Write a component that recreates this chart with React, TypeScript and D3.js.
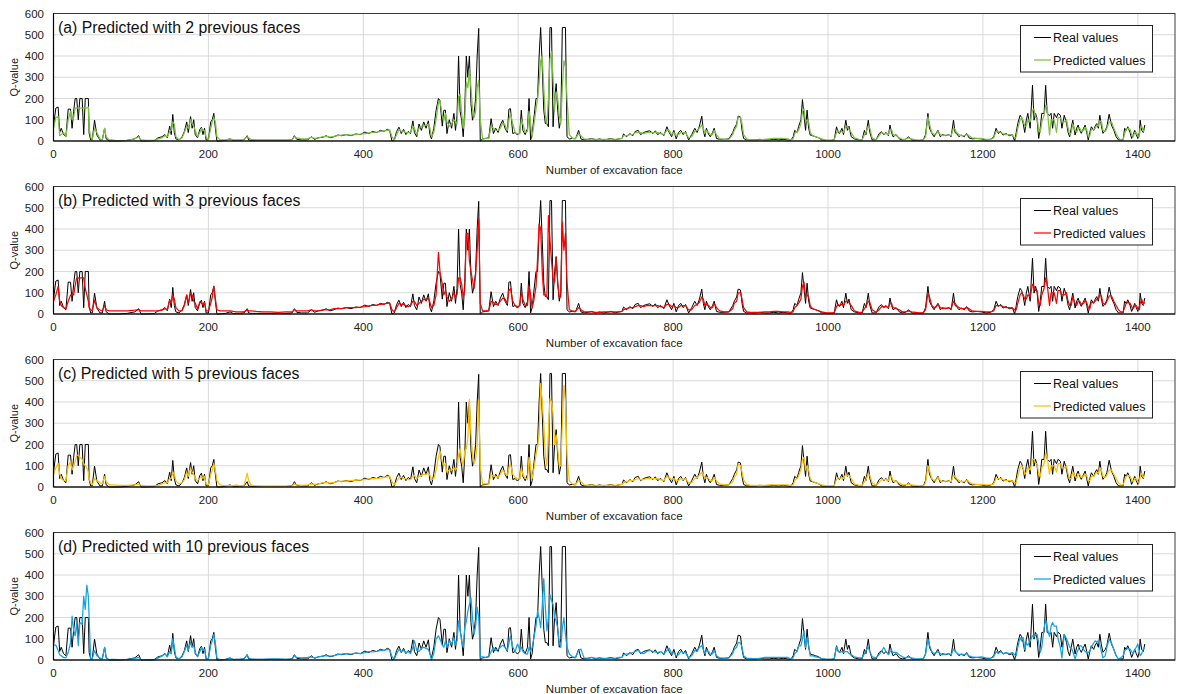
import * as d3 from 'd3';

const faces = [
  0, 3, 6, 8, 10, 13, 16, 19, 22, 24, 26, 28, 30, 32, 34, 37, 39, 41, 43, 45, 46, 48, 50, 53, 56, 60, 63, 66, 68, 72,
  75, 85, 95, 105, 110, 113, 120, 130, 135, 140, 144, 147, 150, 152, 154, 156, 158, 162, 166, 169,
  172, 174, 177, 179, 181, 183, 186, 189, 191, 193, 195, 197, 200, 203, 205, 207, 209, 211, 215, 222,
  228, 232, 236, 240, 246, 250, 252,
  255, 262, 270, 280, 290, 300, 308, 311, 314, 320, 328, 333, 337, 342, 348, 352, 357, 362, 367, 372,
  378, 384, 390, 396, 402, 407, 412, 417, 422, 427, 431, 434, 437, 440,
  443, 446, 449, 452, 455, 458, 461, 464, 466, 469, 472, 475, 478, 481, 484, 486, 488, 491, 494, 497,
  499, 502, 504, 506, 508, 511, 514, 517, 519, 521, 523, 525, 527, 529, 531, 533, 535, 537, 539, 541,
  543, 545, 547, 549, 551, 554, 558, 562,
  565, 568, 571, 574, 577, 580, 583, 586, 588, 590, 593, 596, 599, 602, 604, 606, 609, 612, 614, 616,
  618, 620, 623, 625, 627, 629, 631, 633, 635, 637, 639, 641, 643, 645, 647, 649, 651, 653, 655, 657,
  659, 661, 663, 666,
  670, 674, 678, 681, 685, 690, 695, 700, 705, 710, 715, 720, 725, 730, 734, 736, 740, 744, 748, 751,
  755, 758, 762, 766, 770, 774, 777, 780, 784, 788, 792, 795, 798, 801, 804, 807, 810, 813, 816, 820,
  824, 828, 831, 834, 837, 839, 841, 843, 846, 848, 851, 853, 856, 860, 866, 872, 877, 879, 882, 884,
  887, 889, 891,
  895, 900, 906, 912, 918, 924, 930, 936, 942, 948, 952, 955, 957, 960, 962, 965, 967, 969, 971, 973,
  975, 977, 980, 984, 988, 992, 998, 1004, 1008, 1011, 1013, 1015, 1018, 1020, 1023, 1025, 1027, 1030, 1034, 1040,
  1044, 1047, 1049, 1052, 1054, 1057,
  1062, 1066, 1069, 1072, 1075, 1078, 1080, 1082, 1084, 1088, 1092, 1096, 1100, 1104, 1108, 1113, 1118, 1123, 1126, 1129,
  1131, 1134, 1137, 1140, 1142, 1145, 1148, 1152, 1156, 1159, 1162, 1164, 1166, 1169, 1172, 1176, 1179, 1182, 1186, 1192,
  1198, 1204, 1210, 1214, 1217, 1220, 1223, 1226, 1230, 1234, 1238, 1241,
  1243, 1245, 1248, 1250, 1252, 1254, 1256, 1258, 1261, 1264, 1266, 1268, 1270, 1272, 1274, 1276, 1279, 1281, 1283, 1286,
  1288, 1290, 1292, 1295, 1297, 1300, 1302, 1305, 1308, 1310, 1312, 1314, 1316, 1319, 1321, 1323, 1325, 1327, 1330, 1332,
  1334, 1336, 1338, 1340, 1343, 1345, 1347, 1349, 1351, 1353, 1355, 1358, 1360, 1363, 1366, 1369, 1372, 1375, 1378, 1381,
  1383, 1385, 1387, 1390, 1392, 1394, 1396, 1398, 1400, 1402, 1403, 1405, 1407, 1409,
];

const realQ = [
  70, 155, 160, 40, 60, 30, 20, 150, 150, 60, 140, 200, 200, 100, 200, 200, 30, 200, 200, 200, 36, 5, 5, 98, 28, 5, 5, 60, 10, 0,
  0, 0, 3, 10, 25, 0, 0, 2, 15, 20, 30, 15, 70, 30, 125, 40, 10, 5, 20, 45,
  90, 40, 115, 60, 100, 30, 15, 55, 65, 30, 60, 5, 5, 90, 100, 130, 60, 0, 0, 3,
  10, 2, 3, 3, 5, 25, 5,
  3, 3, 3, 3, 3, 3, 5, 25, 8, 5, 5, 20, 8, 15, 18, 25, 15, 20, 28, 25,
  30, 25, 33, 30, 42, 35, 45, 40, 50, 45, 55, 50, 0, 5,
  45, 65, 35, 55, 30, 45, 35, 95, 40, 20, 80, 50, 90, 60, 95, 30, 10, 60, 145, 200,
  190, 70, 145, 145, 35, 100, 60, 130, 50, 120, 400, 140, 98, 20, 150, 400, 300, 400, 176, 98,
  130, 200, 400, 530, 0, 10, 12, 15,
  105, 35, 60, 40, 75, 98, 60, 40, 150, 152, 35, 40, 28, 40, 145, 50, 30, 60, 200, 5,
  30, 100, 200, 200, 400, 534, 350, 145, 82, 82, 67, 534, 534, 67, 200, 270, 145, 60, 100, 534,
  534, 534, 20, 10,
  12, 10, 50, 10, 5, 8, 12, 5, 10, 5, 8, 12, 5, 10, 12, 33, 20, 35, 25, 45,
  50, 30, 40, 45, 48, 35, 48, 30, 40, 25, 67, 40, 20, 50, 10, 40, 50, 30, 45, 5,
  30, 60, 40, 70, 117, 50, 20, 60, 30, 20, 40, 60, 12, 8, 8, 10, 40, 60, 80, 117,
  113, 50, 12,
  5, 5, 5, 8, 5, 5, 8, 5, 8, 5, 3, 20, 50, 40, 67, 100, 195, 120, 50, 145,
  60, 28, 25, 20, 15, 5, 3, 3, 5, 67, 40, 36, 60, 30, 98, 50, 70, 20, 10, 5,
  5, 50, 30, 98, 40, 5,
  5, 35, 44, 30, 40, 25, 75, 40, 20, 30, 10, 5, 8, 20, 5, 3, 3, 5, 30, 130,
  60, 36, 20, 40, 50, 20, 30, 25, 30, 20, 98, 40, 35, 20, 28, 20, 35, 15, 10, 12,
  10, 5, 8, 20, 60, 35, 45, 28, 35, 25, 30, 0,
  40, 82, 121, 110, 82, 40, 98, 130, 60, 262, 98, 130, 100, 12, 60, 130, 130, 262, 130, 120,
  130, 60, 130, 110, 130, 121, 60, 121, 82, 40, 20, 60, 98, 28, 60, 75, 50, 36, 60, 75,
  40, 5, 40, 67, 50, 70, 82, 60, 121, 70, 36, 50, 67, 126, 75, 50, 20, 5, 5, 5,
  60, 50, 67, 40, 12, 30, 50, 30, 12, 40, 98, 50, 40, 75,
];

const pred2 = [
  60, 110, 115, 25, 30, 40, 20, 100, 140, 100, 110, 155, 155, 155, 155, 155, 155, 155, 155, 160, 60, 20, 5, 60, 40, 10, 5, 60, 20, 5,
  5, 0, 3, 10, 20, 5, 3, 3, 10, 15, 25, 20, 45, 50, 90, 80, 20, 5, 15, 40,
  70, 60, 100, 80, 70, 50, 20, 40, 60, 50, 50, 20, 5, 60, 90, 110, 90, 20, 5, 5,
  10, 5, 5, 5, 8, 20, 15,
  8, 5, 5, 5, 5, 5, 5, 20, 15, 10, 10, 18, 12, 15, 20, 22, 18, 22, 25, 28,
  30, 28, 30, 32, 35, 38, 40, 42, 45, 48, 50, 52, 20, 5,
  30, 55, 45, 45, 40, 40, 40, 70, 60, 30, 60, 70, 70, 75, 80, 60, 20, 40, 100, 180,
  190, 120, 100, 130, 90, 70, 80, 100, 90, 80, 210, 220, 130, 60, 100, 277, 250, 340, 250, 150,
  110, 140, 250, 285, 100, 10, 12, 12,
  70, 60, 50, 50, 60, 85, 75, 50, 100, 130, 80, 40, 35, 35, 100, 80, 40, 45, 140, 80,
  20, 70, 150, 200, 270, 378, 400, 250, 120, 80, 200, 386, 420, 300, 150, 230, 200, 120, 80, 250,
  378, 350, 200, 30,
  12, 12, 35, 25, 10, 8, 10, 8, 8, 8, 8, 10, 8, 10, 12, 25, 25, 30, 30, 40,
  40, 40, 35, 40, 40, 40, 42, 40, 35, 30, 50, 50, 30, 40, 25, 30, 40, 40, 40, 15,
  20, 45, 50, 60, 75, 60, 35, 50, 40, 30, 30, 50, 30, 10, 8, 8, 30, 50, 70, 113,
  110, 80, 30,
  10, 5, 5, 5, 8, 10, 12, 12, 12, 10, 5, 10, 35, 45, 50, 80, 140, 152, 90, 100,
  90, 40, 25, 20, 15, 10, 3, 3, 5, 40, 50, 40, 45, 40, 70, 70, 55, 40, 15, 8,
  5, 30, 40, 70, 60, 15,
  5, 25, 40, 35, 35, 30, 55, 55, 30, 25, 15, 8, 8, 15, 10, 5, 3, 5, 20, 113,
  80, 40, 30, 35, 45, 30, 25, 28, 28, 25, 60, 55, 40, 30, 25, 25, 30, 25, 15, 12,
  12, 8, 8, 15, 45, 45, 40, 35, 30, 30, 28, 15,
  20, 60, 100, 110, 95, 70, 70, 100, 90, 145, 150, 110, 110, 50, 40, 90, 120, 168, 160, 28,
  100, 100, 100, 40, 110, 110, 90, 90, 100, 60, 30, 40, 80, 50, 40, 60, 60, 45, 50, 65,
  55, 20, 25, 55, 55, 60, 75, 70, 95, 90, 50, 45, 60, 90, 90, 60, 35, 15, 5, 5,
  35, 55, 60, 55, 30, 20, 40, 40, 25, 20, 60, 70, 45, 55,
];

const pred3 = [
  60, 90, 130, 60, 40, 30, 25, 60, 90, 90, 90, 135, 170, 170, 170, 170, 170, 120, 90, 60, 30, 20, 15, 65, 30, 19, 15, 40, 20, 15,
  15, 15, 15, 18, 20, 15, 15, 15, 15, 18, 25, 20, 65, 50, 90, 70, 30, 15, 15, 40,
  90, 50, 97, 90, 60, 50, 25, 58, 50, 45, 55, 15, 15, 50, 80, 131, 73, 20, 15, 15,
  15, 12, 10, 10, 10, 20, 15,
  15, 12, 10, 10, 8, 10, 10, 20, 15, 15, 15, 20, 15, 15, 20, 20, 20, 25, 25, 25,
  30, 30, 30, 32, 35, 38, 40, 42, 45, 48, 50, 52, 20, 10,
  30, 50, 45, 45, 40, 35, 40, 60, 60, 40, 50, 60, 70, 65, 75, 55, 30, 40, 90, 290,
  200, 140, 90, 110, 80, 60, 70, 100, 80, 90, 170, 170, 140, 80, 110, 380, 380, 250, 200, 160,
  120, 183, 300, 447, 50, 15, 15, 15,
  60, 55, 45, 45, 60, 75, 70, 50, 110, 120, 60, 40, 35, 40, 100, 70, 40, 40, 130, 90,
  30, 60, 130, 260, 424, 400, 200, 90, 90, 80, 463, 350, 250, 167, 150, 268, 150, 80, 80, 434,
  300, 380, 150, 20,
  15, 12, 30, 20, 10, 10, 10, 8, 8, 10, 10, 10, 10, 10, 12, 20, 25, 30, 30, 35,
  40, 40, 35, 40, 40, 40, 40, 40, 35, 30, 45, 45, 35, 40, 30, 30, 40, 40, 40, 20,
  20, 40, 45, 55, 80, 70, 40, 45, 40, 30, 30, 50, 30, 15, 10, 10, 25, 50, 60, 100,
  100, 70, 30,
  10, 8, 8, 8, 10, 10, 12, 12, 10, 10, 8, 10, 30, 40, 50, 70, 130, 150, 80, 90,
  80, 40, 25, 20, 15, 10, 5, 5, 5, 35, 45, 40, 45, 40, 60, 60, 55, 40, 15, 8,
  8, 25, 35, 60, 55, 20,
  8, 20, 35, 35, 35, 30, 50, 50, 30, 25, 20, 10, 10, 15, 10, 8, 5, 5, 20, 100,
  80, 40, 30, 35, 45, 30, 25, 28, 28, 25, 60, 50, 40, 30, 25, 25, 30, 25, 15, 12,
  12, 10, 10, 15, 40, 40, 40, 35, 30, 30, 28, 20,
  20, 50, 90, 100, 90, 70, 70, 90, 80, 140, 130, 110, 110, 50, 40, 90, 120, 170, 140, 40,
  100, 100, 100, 50, 110, 110, 90, 90, 100, 60, 40, 40, 80, 50, 40, 60, 60, 45, 50, 65,
  55, 30, 25, 55, 55, 60, 70, 70, 90, 85, 50, 45, 60, 85, 85, 60, 40, 20, 10, 10,
  30, 50, 55, 50, 35, 25, 40, 40, 25, 20, 50, 70, 45, 55,
];

const pred5 = [
  60, 90, 110, 60, 40, 30, 30, 100, 120, 80, 100, 120, 150, 150, 140, 130, 110, 100, 90, 70, 40, 20, 10, 40, 30, 20, 15, 50, 25, 10,
  10, 8, 8, 10, 15, 8, 5, 5, 8, 15, 20, 20, 40, 40, 70, 60, 30, 15, 20, 35,
  70, 50, 90, 70, 60, 40, 30, 40, 50, 40, 50, 15, 10, 60, 80, 110, 80, 30, 10, 5,
  8, 5, 10, 5, 8, 65, 30,
  10, 5, 3, 3, 3, 3, 5, 15, 10, 8, 10, 15, 12, 15, 20, 22, 18, 22, 25, 28,
  28, 30, 32, 32, 35, 38, 38, 40, 42, 45, 48, 50, 25, 10,
  25, 45, 45, 40, 40, 35, 35, 50, 55, 40, 50, 55, 60, 60, 65, 55, 35, 40, 80, 140,
  170, 120, 100, 110, 70, 80, 80, 90, 80, 90, 150, 180, 130, 100, 170, 180, 230, 412, 250, 150,
  110, 130, 200, 410, 100, 15, 15, 15,
  60, 50, 50, 45, 60, 80, 65, 55, 90, 110, 60, 45, 40, 40, 90, 60, 40, 35, 140, 90,
  40, 80, 150, 190, 250, 486, 400, 300, 150, 100, 250, 416, 400, 346, 200, 245, 180, 100, 100, 300,
  478, 400, 150, 30,
  15, 12, 30, 25, 10, 8, 10, 8, 8, 8, 8, 10, 8, 10, 12, 20, 25, 30, 30, 35,
  40, 35, 35, 40, 40, 40, 40, 40, 35, 30, 50, 45, 35, 40, 30, 30, 40, 35, 40, 20,
  20, 40, 45, 55, 70, 60, 40, 45, 40, 30, 30, 45, 30, 15, 10, 10, 25, 45, 60, 110,
  100, 70, 35,
  12, 8, 8, 8, 8, 10, 10, 10, 10, 10, 8, 10, 30, 40, 50, 80, 130, 140, 80, 100,
  80, 40, 25, 20, 15, 10, 5, 5, 5, 35, 45, 40, 45, 40, 60, 55, 55, 40, 15, 8,
  8, 25, 35, 60, 55, 20,
  8, 20, 35, 35, 35, 30, 50, 50, 30, 25, 20, 10, 10, 15, 10, 8, 5, 5, 20, 100,
  80, 40, 30, 35, 45, 30, 25, 28, 28, 25, 55, 50, 40, 30, 25, 25, 30, 25, 15, 12,
  12, 10, 10, 15, 40, 40, 40, 35, 30, 30, 28, 20,
  20, 50, 90, 100, 90, 60, 70, 90, 80, 130, 130, 110, 110, 60, 50, 90, 110, 160, 140, 60,
  100, 100, 100, 70, 110, 110, 90, 90, 100, 60, 40, 40, 70, 50, 40, 60, 60, 45, 50, 60,
  55, 30, 30, 50, 50, 60, 70, 65, 90, 80, 50, 45, 55, 80, 80, 60, 40, 20, 10, 10,
  30, 50, 55, 50, 35, 25, 40, 40, 25, 20, 50, 65, 45, 55,
];

const pred10 = [
  70, 70, 45, 25, 20, 12, 10, 36, 80, 207, 140, 114, 176, 67, 176, 168, 300, 238, 352, 300, 199, 5, 5, 44, 20, 10, 5, 60, 12, 0,
  3, 2, 2, 8, 12, 3, 0, 0, 10, 18, 30, 15, 40, 30, 100, 60, 15, 5, 15, 40,
  70, 45, 85, 60, 70, 35, 15, 40, 60, 45, 50, 10, 5, 70, 90, 120, 80, 10, 0, 3,
  8, 3, 3, 3, 5, 25, 10,
  5, 3, 3, 5, 5, 3, 3, 20, 12, 10, 12, 15, 10, 15, 18, 20, 18, 20, 25, 28,
  30, 28, 32, 30, 35, 40, 38, 40, 45, 45, 50, 48, 15, 5,
  30, 50, 40, 45, 35, 40, 30, 60, 90, 45, 40, 55, 60, 55, 50, 30, 0, 30, 100, 114,
  98, 70, 60, 90, 60, 90, 75, 106, 70, 90, 184, 140, 90, 60, 152, 180, 230, 260, 293, 200,
  121, 160, 249, 200, 15, 15, 12, 15,
  40, 59, 45, 50, 60, 70, 60, 45, 80, 114, 60, 40, 75, 50, 60, 40, 30, 28, 60, 40,
  59, 100, 160, 230, 200, 152, 250, 383, 250, 137, 200, 308, 280, 261, 200, 184, 150, 80, 59, 150,
  200, 121, 60, 28,
  15, 12, 45, 51, 10, 8, 12, 8, 10, 8, 8, 10, 8, 12, 12, 25, 28, 30, 35, 40,
  45, 35, 30, 40, 45, 40, 38, 35, 40, 28, 45, 55, 30, 35, 20, 25, 40, 35, 35, 10,
  20, 45, 40, 60, 67, 50, 30, 45, 40, 25, 30, 45, 20, 10, 8, 10, 30, 50, 60, 83,
  80, 60, 20,
  8, 8, 5, 8, 12, 12, 12, 12, 12, 12, 5, 10, 30, 40, 67, 67, 100, 137, 59, 106,
  70, 20, 20, 15, 12, 5, 3, 3, 5, 62, 45, 36, 40, 36, 40, 40, 31, 25, 15, 10,
  10, 30, 45, 59, 40, 15,
  10, 25, 40, 59, 40, 25, 40, 45, 36, 36, 25, 15, 10, 15, 10, 5, 5, 5, 30, 98,
  70, 40, 30, 35, 40, 30, 25, 28, 30, 25, 51, 45, 35, 25, 28, 25, 30, 20, 15, 12,
  15, 10, 8, 15, 40, 30, 40, 30, 35, 30, 35, 25,
  20, 60, 106, 90, 106, 50, 80, 70, 90, 114, 110, 121, 121, 80, 36, 60, 150, 191, 150, 110,
  160, 176, 160, 160, 100, 60, 10, 121, 100, 80, 60, 60, 40, 5, 30, 50, 67, 67, 50, 40,
  35, 36, 40, 60, 80, 90, 85, 90, 70, 40, 10, 20, 60, 98, 80, 50, 20, 5, 10, 20,
  44, 50, 55, 51, 40, 30, 50, 60, 75, 40, 20, 30, 50, 60,
];

const panelTitles = [
  '(a) Predicted with 2 previous faces',
  '(b) Predicted with 3 previous faces',
  '(c) Predicted with 5 previous faces',
  '(d) Predicted with 10 previous faces',
];
const predictions = [pred2, pred3, pred5, pred10];
const predColors = ['#7cc142', '#ff0000', '#ffc000', '#12a3e6'];
const xTicks = [0, 200, 400, 600, 800, 1000, 1200, 1400];
const yTicks = [0, 100, 200, 300, 400, 500, 600];

const W = 1177;
const H = 694;
const FONT = '"Liberation Sans", Arial, sans-serif';
const plotLeft = 53.5;
const plotRight = 1175;
const panelTops = [13.5, 186.5, 359.5, 532.5];
const panelH = 127.5;

const x = d3.scaleLinear().domain([0, 1448]).range([plotLeft, plotRight]);

function Panel({ top, title, values, color }: { top: number; title: string; values: number[]; color: string }) {
  const y = d3.scaleLinear().domain([0, 600]).range([top + panelH, top]);
  const n = Math.min(faces.length, realQ.length, values.length);
  const idx = d3.range(n);
  const line = (arr: number[]) =>
    d3.line<number>()
      .x(i => x(faces[i]))
      .y(i => y(arr[i]))(idx) || '';
  const bottom = top + panelH;

  return (
    <g>
      {/* grid */}
      {yTicks.slice(1).map(t => (
        <line key={'h' + t} x1={plotLeft} x2={plotRight} y1={y(t)} y2={y(t)} stroke="#d9d9d9" strokeWidth={1} />
      ))}
      {xTicks.slice(1).map(t => (
        <line key={'v' + t} x1={x(t)} x2={x(t)} y1={top} y2={bottom} stroke="#d9d9d9" strokeWidth={1} />
      ))}

      <path d={line(realQ)} fill="none" stroke="#000" strokeWidth={1} strokeLinejoin="round" />
      <path d={line(values)} fill="none" stroke={color} strokeWidth={1.25} strokeLinejoin="round" />

      {/* frame */}
      <rect x={plotLeft} y={top} width={plotRight - plotLeft} height={panelH} fill="none" stroke="#3a3a3a" strokeWidth={1} />
      <line x1={plotLeft} x2={plotRight} y1={bottom} y2={bottom} stroke="#000" strokeWidth={1.2} />
      <line x1={plotLeft} x2={plotLeft} y1={top} y2={bottom} stroke="#000" strokeWidth={1.2} />

      {/* axis labels */}
      {yTicks.map(t => (
        <text key={'yl' + t} x={44} y={y(t)} dy="0.35em" textAnchor="end" fontSize={11.5} fill="#222" fontFamily={FONT}>
          {t}
        </text>
      ))}
      {xTicks.map(t => (
        <text key={'xl' + t} x={x(t)} y={bottom + 17} textAnchor="middle" fontSize={11.5} fill="#222" fontFamily={FONT}>
          {t}
        </text>
      ))}
      <text x={(plotLeft + plotRight) / 2} y={bottom + 33} textAnchor="middle" fontSize={11.5} fill="#222" fontFamily={FONT}>
        Number of excavation face
      </text>
      <text
        transform={`translate(18,${top + panelH / 2}) rotate(-90)`}
        textAnchor="middle"
        fontSize={11}
        fill="#222"
        fontFamily={FONT}
      >
        Q-value
      </text>

      <text x={58} y={top + 19.5} fontSize={15.8} fill="#111" fontFamily={FONT}>
        {title}
      </text>

      {/* legend */}
      <g>
        <rect x={1020.5} y={top + 12} width={132} height={46.5} fill="#fff" stroke="#222" strokeWidth={1} />
        <line x1={1034} x2={1051} y1={top + 24} y2={top + 24} stroke="#000" strokeWidth={1} />
        <text x={1053} y={top + 28.5} fontSize={12.5} fill="#111" fontFamily={FONT}>Real values</text>
        <line x1={1034} x2={1051} y1={top + 46.5} y2={top + 46.5} stroke={color} strokeWidth={1.25} />
        <text x={1053} y={top + 51} fontSize={12.5} fill="#111" fontFamily={FONT}>Predicted values</text>
      </g>
    </g>
  );
}

export default function App() {
  return (
    <svg
      width={W}
      height={H}
      viewBox={`0 0 ${W} ${H}`}
      style={{ position: 'absolute', left: 0, top: 0, background: '#fff' }}
    >
      <rect width={W} height={H} fill="#fff" />
      {panelTops.map((top, i) => (
        <Panel key={i} top={top} title={panelTitles[i]} values={predictions[i]} color={predColors[i]} />
      ))}
    </svg>
  );
}
